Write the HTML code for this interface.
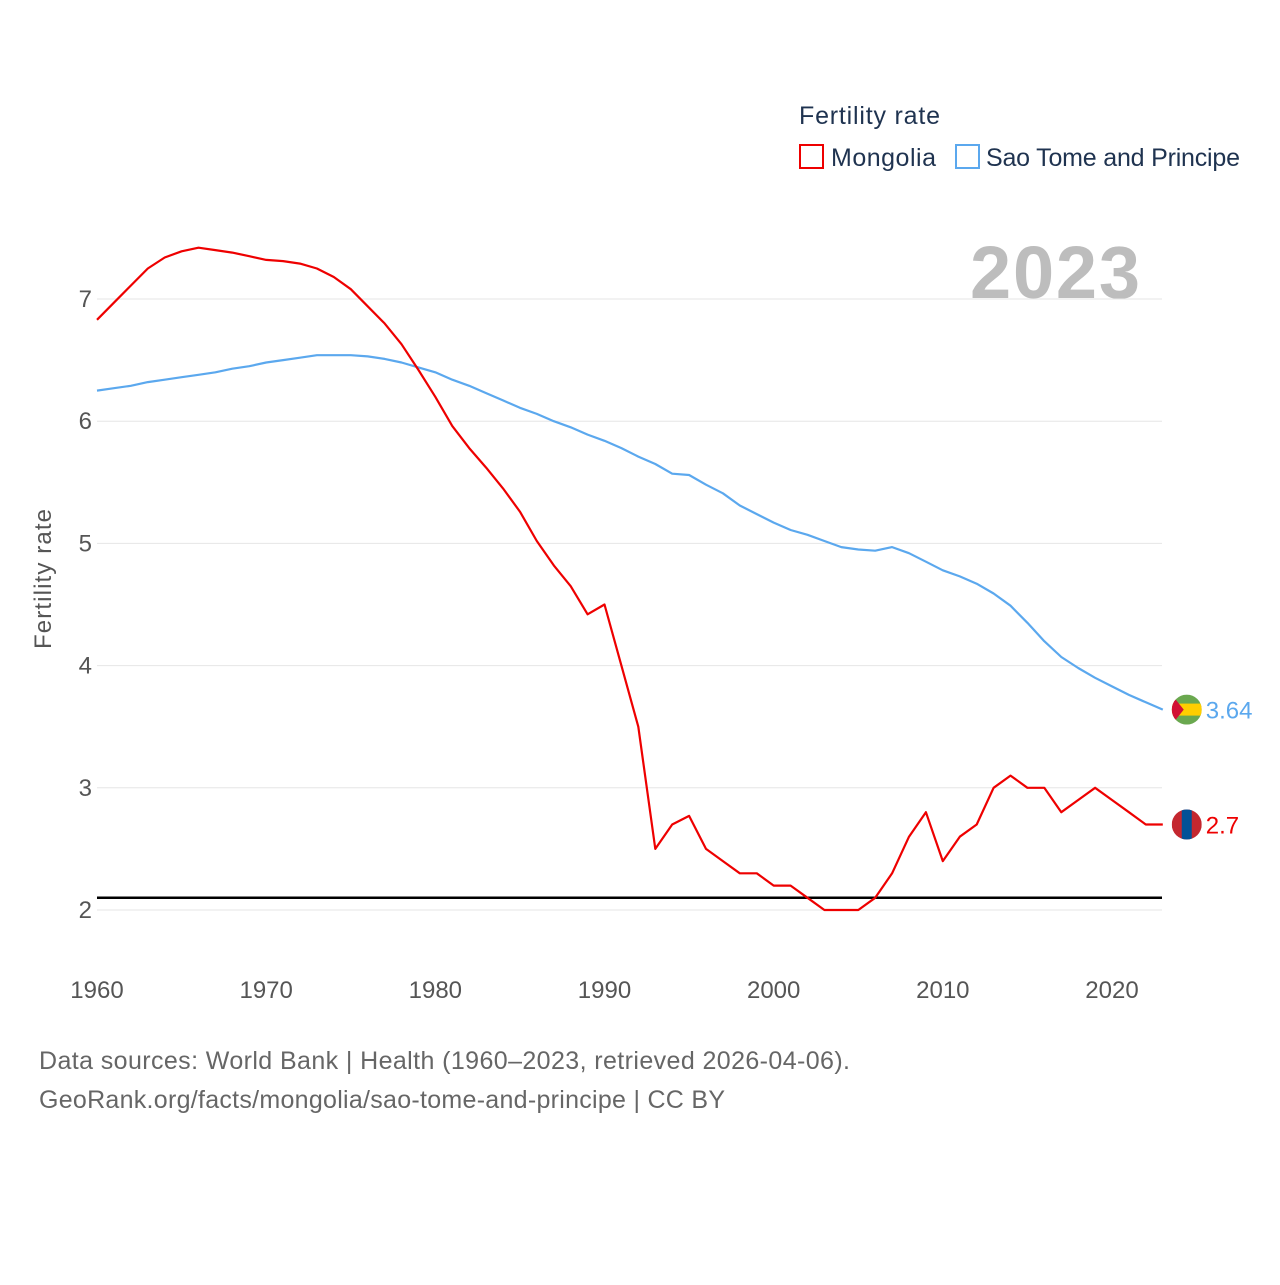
<!DOCTYPE html>
<html><head><meta charset="utf-8">
<style>
body{margin:0;background:#fff;font-family:"Liberation Sans",sans-serif;}
#wrap{position:relative;width:1280px;height:1280px;}
svg text{font-family:"Liberation Sans",sans-serif;}
</style></head><body>
<div id="wrap">
<svg id="chart" width="1280" height="1280">
  <text x="799" y="124" font-size="25" fill="#1f3350" textLength="141">Fertility rate</text>
  <g>
    <rect x="800" y="145" width="23" height="23" fill="none" stroke="#ee0000" stroke-width="2"/>
    <text x="831" y="166" font-size="25" fill="#1f3350" textLength="105">Mongolia</text>
  </g>
  <g>
    <rect x="956" y="145" width="23" height="23" fill="none" stroke="#5ba8ee" stroke-width="2"/>
    <text x="986" y="166" font-size="25" fill="#1f3350" textLength="254">Sao Tome and Principe</text>
  </g>
  <text x="970" y="298" font-size="74" font-weight="bold" fill="#bdbdbd" textLength="170">2023</text>
  <g id="grid"></g>
  <g id="yticks"></g>
  <g id="xticks"></g>
  <text transform="translate(51,579) rotate(-90)" font-size="24" fill="#555" text-anchor="middle" textLength="140">Fertility rate</text>
  <g id="series"></g>
  <text x="39" y="1069" font-size="25" fill="#666" textLength="811">Data sources: World Bank | Health (1960–2023, retrieved 2026-04-06).</text>
  <text x="39" y="1108" font-size="25" fill="#666" textLength="686">GeoRank.org/facts/mongolia/sao-tome-and-principe | CC BY</text>
</svg>
</div>
<script>
const years = Array.from({length:64},(_, i)=>1960+i);
const mongolia = [6.83,6.97,7.11,7.25,7.34,7.39,7.42,7.40,7.38,7.35,7.32,7.31,7.29,7.25,7.18,7.08,6.94,6.80,6.63,6.42,6.20,5.96,5.78,5.62,5.45,5.26,5.02,4.82,4.65,4.42,4.50,4.00,3.50,2.50,2.70,2.77,2.50,2.40,2.30,2.30,2.20,2.20,2.10,2.00,2.00,2.00,2.10,2.30,2.60,2.80,2.40,2.60,2.70,3.00,3.10,3.00,3.00,2.80,2.90,3.00,2.90,2.80,2.70,2.70];
const saoTome = [6.25,6.27,6.29,6.32,6.34,6.36,6.38,6.40,6.43,6.45,6.48,6.50,6.52,6.54,6.54,6.54,6.53,6.51,6.48,6.44,6.40,6.34,6.29,6.23,6.17,6.11,6.06,6.00,5.95,5.89,5.84,5.78,5.71,5.65,5.57,5.56,5.48,5.41,5.31,5.24,5.17,5.11,5.07,5.02,4.97,4.95,4.94,4.97,4.92,4.85,4.78,4.73,4.67,4.59,4.49,4.35,4.20,4.07,3.98,3.90,3.83,3.76,3.70,3.64];
const yTicks = [2,3,4,5,6,7];
const xTicks = [1960,1970,1980,1990,2000,2010,2020];
const replacement = 2.1;
const NS='http://www.w3.org/2000/svg';
const xs = y => 97 + (y-1960)*(1112-97)/60;
const ys = v => 910 - (v-2)*(910-299)/5;
function mk(tag, attrs, parent){const e=document.createElementNS(NS,tag);for(const k in attrs)e.setAttribute(k,attrs[k]);parent.appendChild(e);return e;}
const grid=document.getElementById('grid'), yt=document.getElementById('yticks'), xt=document.getElementById('xticks'), ser=document.getElementById('series');
yTicks.forEach(v=>{
  const l=mk('line',{x1:97,x2:1162,y1:ys(v),y2:ys(v),stroke:'#e6e6e6','stroke-width':1},grid);
  
  
  const t=mk('text',{x:92,y:ys(v)+8,'font-size':24,fill:'#555','text-anchor':'end'},yt);
  t.textContent=v;
  
  
});
xTicks.forEach(y=>{
  const t=mk('text',{x:xs(y),y:998,'font-size':24,fill:'#555','text-anchor':'middle'},xt);
  t.textContent=y;
  
  
});
const rl=mk('line',{x1:97,x2:1162,y1:ys(replacement),y2:ys(replacement),stroke:'#000','stroke-width':2.5},ser);


function draw(vals,color,name,label,flagFn){
  const d=vals.map((v,i)=>(i?'L':'M')+xs(years[i]).toFixed(1)+','+ys(v).toFixed(1)).join(' ');
  const p=mk('path',{d:d,fill:'none',stroke:color,'stroke-width':2.2,'stroke-linejoin':'round'},ser);
  
  
  const last=vals[vals.length-1], lx=xs(years[years.length-1]), ly=ys(last);
  const g=mk('g',{},ser);
  
  
  flagFn(g,lx+24,ly);
  const t=mk('text',{x:lx+43,y:ly+9,'font-size':24,fill:color},ser);
  t.textContent=label;
  
  
}
function stpFlag(g,cx,cy){
  const id='clipstp';
  const cp=mk('clipPath',{id:id},g); mk('circle',{cx:cx,cy:cy,r:15},cp);
  const h=mk('g',{'clip-path':'url(#'+id+')'},g);
  mk('rect',{x:cx-15,y:cy-15,width:30,height:30,fill:'#6aa84f'},h);
  mk('rect',{x:cx-15,y:cy-6,width:30,height:12,fill:'#ffce00'},h);
  mk('polygon',{points:(cx-15)+','+(cy-15)+' '+(cx-3)+','+cy+' '+(cx-15)+','+(cy+15),fill:'#d21034'},h);
}
function mnFlag(g,cx,cy){
  const id='clipmn';
  const cp=mk('clipPath',{id:id},g); mk('circle',{cx:cx,cy:cy,r:15},cp);
  const h=mk('g',{'clip-path':'url(#'+id+')'},g);
  mk('rect',{x:cx-15,y:cy-15,width:30,height:30,fill:'#c4272f'},h);
  mk('rect',{x:cx-5,y:cy-15,width:10,height:30,fill:'#015197'},h);
}
draw(saoTome,'#5ba8ee','sao-tome','3.64',stpFlag);
draw(mongolia,'#ee0000','mongolia','2.7',mnFlag);
</script>
</body></html>
